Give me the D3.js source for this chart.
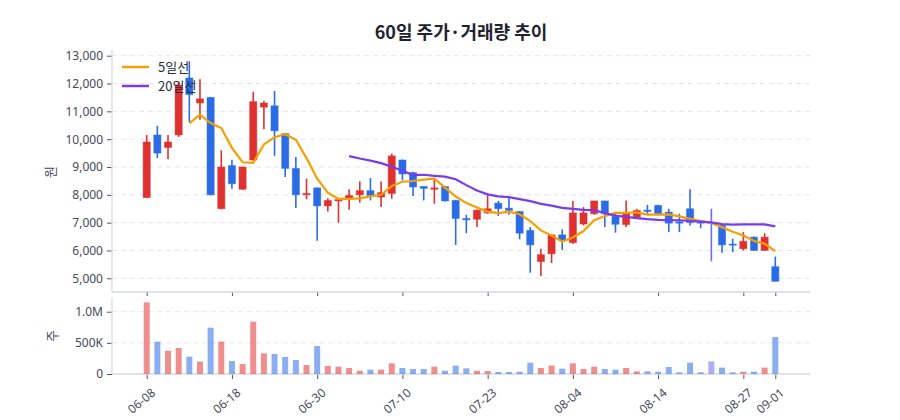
<!DOCTYPE html>
<html>
<head>
<meta charset="utf-8">
<script src="https://cdn.jsdelivr.net/npm/d3@7"></script>
<style>
  body { margin: 0; background: #fff; }
  svg { font-family: "Noto Sans CJK KR", "Noto Sans", sans-serif; }
</style>
</head>
<body>
<svg id="chart" width="900" height="420"></svg>
<script>
// trading days (MM-DD)
var dates = ["06-08","06-09","06-10","06-11","06-12","06-15","06-16","06-17","06-18","06-19",
  "06-22","06-23","06-24","06-25","06-26","06-29","06-30","07-01","07-02","07-03",
  "07-06","07-07","07-08","07-09","07-10","07-13","07-14","07-15","07-16","07-20",
  "07-21","07-22","07-23","07-24","07-27","07-28","07-29","07-30","07-31","08-03",
  "08-04","08-05","08-06","08-07","08-10","08-11","08-12","08-13","08-14","08-18",
  "08-19","08-20","08-21","08-24","08-25","08-26","08-27","08-28","08-31","09-01"]

var opens  = [7900,10150,9700,10150,12200,11300,11500,7500,9050,8200,
  9250,11150,11200,10200,8950,8000,8250,7600,7780,7880,
  8000,8150,7920,8050,9250,8800,8300,8200,8300,7800,
  7150,7120,7350,7700,7520,7400,6720,5600,5880,6560,
  6280,6950,7320,7780,7230,6930,7200,7450,7620,7380,
  7030,7500,7050,7000,6900,6230,6060,6480,6000,5420]
var highs  = [10150,10480,10150,12070,12800,12150,11520,9600,9260,9020,
  11700,11370,11730,10220,9360,8580,8260,7880,7880,8200,
  8480,8600,8480,9480,9270,8830,8310,8600,8320,7820,
  7280,7470,8000,7780,7920,7420,6840,6060,6580,6760,
  7780,7560,7790,7790,7320,7800,7500,7640,7640,7500,
  7320,8200,7100,7500,6920,6420,6660,6500,6620,5780]
var lows   = [7880,9320,9280,10080,10620,10700,7980,7480,8220,8180,
  9230,10360,9400,8640,7530,7840,6350,7400,7000,7460,
  7720,7800,7560,7860,8520,7960,7800,7680,7760,6200,
  6620,6840,7320,7240,7280,6400,5200,5080,5550,6020,
  6240,6900,7280,6840,6640,6840,7140,7320,7300,6660,
  6660,6900,6800,5610,5920,5940,6000,5990,5990,4880]
var closes = [9900,9500,9900,11950,11600,11450,8000,9000,8400,9000,
  11350,11300,10300,8950,8000,8050,7600,7800,7830,7980,
  8150,7970,8080,9400,8750,8280,8230,8250,7780,7150,
  7100,7450,7500,7500,7440,6620,6200,5850,6560,6380,
  7350,7350,7780,7320,6940,7350,7440,7400,7320,6980,
  6980,7000,6980,7000,6200,6190,6330,6000,6480,4890]
var volumes = [1150000,519000,374000,417000,278000,198000,743000,519000,209000,160000,
  840000,332000,321000,273000,225000,144000,449000,128000,118000,96000,
  53000,70000,70000,171000,96000,80000,80000,118000,53000,134000,
  91000,53000,48000,32000,32000,37000,182000,96000,134000,86000,
  171000,80000,118000,80000,70000,96000,43000,43000,37000,112000,
  27000,182000,27000,203000,102000,27000,37000,37000,102000,594000]

var tickDates = ["06-08","06-18","06-30","07-10","07-23","08-04","08-14","08-27","09-01"]
var priceTicks = [5000,6000,7000,8000,9000,10000,11000,12000,13000]
var volTicks = [0,500000,1000000]
var volTickLabels = ["0","500K","1.0M"]
var maSeries = [
  {name: "5일선", n: 5, color: "#f59f00"},
  {name: "20일선", n: 20, color: "#7c3aed"}
]

var upColor = "#e03131"
var downColor = "#2b6ce6"
var flatColor = "#6c6cf0"

var left = 112, right = 810
var svg = d3.select("#chart")

var x = d3.scalePoint()
  .domain(dates)
  .range([146.7, 775.3])

var y = d3.scaleLinear()
  .domain([4525, 13205])
  .range([291.5, 50])

var yv = d3.scaleLinear()
  .domain([0, 1220000])
  .range([374, 298])

var candleColor = function(i){
  if (closes[i] > opens[i]) return upColor
  if (closes[i] < opens[i]) return downColor
  return flatColor
}

// moving average of closing prices
var movingAvg = function(n){
  return closes.map(function(d, i){
    if (i < n - 1) return null
    return d3.mean(closes.slice(i - n + 1, i + 1))
  })
}

// title
svg.append("text")
  .attr("x", 461).attr("y", 39)
  .attr("text-anchor", "middle")
  .attr("font-size", 18).attr("font-weight", "bold")
  .attr("fill", "#1f2330")
  .text("60일 주가·거래량 추이")

// grid lines
svg.append("g").selectAll("line")
  .data(priceTicks).enter().append("line")
  .attr("x1", left).attr("x2", right)
  .attr("y1", function(d){ return y(d) }).attr("y2", function(d){ return y(d) })
  .attr("stroke", "#e3e5ea").attr("stroke-dasharray", "5,4")

svg.append("g").selectAll("line")
  .data(volTicks.slice(1)).enter().append("line")
  .attr("x1", left).attr("x2", right)
  .attr("y1", function(d){ return yv(d) }).attr("y2", function(d){ return yv(d) })
  .attr("stroke", "#e3e5ea").attr("stroke-dasharray", "5,4")

// axes
var yAxis = svg.append("g")
  .attr("transform", "translate(" + left + ",0)")
  .call(d3.axisLeft(y).tickValues(priceTicks).tickFormat(d3.format(",")).tickSize(5).tickPadding(4))
var vAxis = svg.append("g")
  .attr("transform", "translate(" + left + ",0)")
  .call(d3.axisLeft(yv).tickValues(volTicks)
    .tickFormat(function(d, i){ return volTickLabels[i] }).tickSize(5).tickPadding(4))

var xTop = svg.append("g")
  .attr("transform", "translate(0,292)")
  .call(d3.axisBottom(x).tickValues(tickDates).tickSize(4).tickFormat(""))
var xAxis = svg.append("g")
  .attr("transform", "translate(0,374)")
  .call(d3.axisBottom(x).tickValues(tickDates).tickSize(5))

;[yAxis, vAxis, xTop, xAxis].forEach(function(g){
  g.select(".domain").remove()
  g.selectAll(".tick line").attr("stroke", "#555")
  g.selectAll("text").attr("font-size", 12).attr("fill", "#454a5a")
    .attr("font-family", "'Noto Sans', 'Noto Sans CJK KR', sans-serif")
})

xAxis.selectAll("text")
  .attr("text-anchor", "end")
  .attr("dy", null)
  .attr("transform", "translate(4,14) rotate(-40)")

// axis lines
svg.append("line").attr("x1", left).attr("x2", left).attr("y1", 50).attr("y2", 292)
  .attr("stroke", "#d5d8df").attr("stroke-width", 1.2)
svg.append("line").attr("x1", left).attr("x2", right).attr("y1", 292).attr("y2", 292)
  .attr("stroke", "#d5d8df").attr("stroke-width", 1.5)
svg.append("line").attr("x1", left).attr("x2", left).attr("y1", 298).attr("y2", 374)
  .attr("stroke", "#d5d8df").attr("stroke-width", 1.2)
svg.append("line").attr("x1", left).attr("x2", right).attr("y1", 374).attr("y2", 374)
  .attr("stroke", "#d5d8df").attr("stroke-width", 1.5)

// axis titles
svg.append("text")
  .attr("transform", "translate(55,172) rotate(-90)")
  .attr("text-anchor", "middle").attr("font-size", 13).attr("fill", "#454a5a")
  .text("원")
svg.append("text")
  .attr("transform", "translate(57,336) rotate(-90)")
  .attr("text-anchor", "middle").attr("font-size", 13).attr("fill", "#454a5a")
  .text("주")

// volume bars
svg.append("g").selectAll("rect")
  .data(volumes).enter().append("rect")
  .attr("x", function(d, i){ return x(dates[i]) - 3 })
  .attr("width", 6)
  .attr("y", function(d){ return yv(d) })
  .attr("height", function(d){ return yv(0) - yv(d) })
  .attr("fill", function(d, i){ return candleColor(i) })
  .attr("fill-opacity", 0.55)

// candles
var candles = svg.append("g").selectAll("g")
  .data(dates).enter().append("g")

candles.append("line")
  .attr("x1", function(d){ return x(d) }).attr("x2", function(d){ return x(d) })
  .attr("y1", function(d, i){ return y(highs[i]) })
  .attr("y2", function(d, i){ return y(lows[i]) })
  .attr("stroke", function(d, i){ return candleColor(i) })
  .attr("stroke-width", 1.6)

candles.append("rect")
  .attr("x", function(d){ return x(d) - 3.6 })
  .attr("width", 7.2)
  .attr("y", function(d, i){ return y(Math.max(opens[i], closes[i])) })
  .attr("height", function(d, i){ return Math.max(0.5, Math.abs(y(opens[i]) - y(closes[i]))) })
  .attr("fill", function(d, i){ return candleColor(i) })
  .attr("stroke", function(d, i){ return candleColor(i) })
  .attr("stroke-opacity", 0.45)

// moving averages
var maLine = d3.line()
  .defined(function(d){ return d != null })
  .x(function(d, i){ return x(dates[i]) })
  .y(function(d){ return y(d) })

maSeries.forEach(function(s){
  svg.append("path")
    .datum(movingAvg(s.n))
    .attr("d", maLine)
    .attr("fill", "none")
    .attr("stroke", s.color)
    .attr("stroke-width", 2.2)
})

// legend
var legend = svg.append("g").selectAll("g")
  .data(maSeries).enter().append("g")
  .attr("transform", function(d, i){ return "translate(122," + (67 + i * 19) + ")" })
legend.append("line")
  .attr("x1", 0).attr("x2", 27)
  .attr("stroke", function(d){ return d.color })
  .attr("stroke-width", 2.5)
legend.append("text")
  .attr("x", 36).attr("dy", "0.35em")
  .attr("font-size", 13).attr("fill", "#2a2e3a")
  .text(function(d){ return d.name })
</script>
</body>
</html>
